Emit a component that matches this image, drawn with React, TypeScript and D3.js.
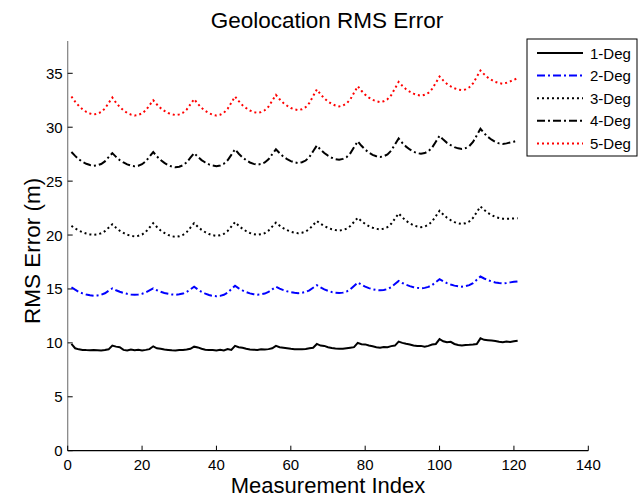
import React from "react";
import * as d3 from "d3";

const seriesNames = ["1-Deg", "2-Deg", "3-Deg", "4-Deg", "5-Deg"];

const deg1 = [
  9.9, 9.5, 9.4, 9.35, 9.33, 9.32, 9.33, 9.32, 9.3, 9.33, 9.4,
  9.75, 9.65, 9.6, 9.35, 9.3, 9.38, 9.32, 9.36, 9.3, 9.35, 9.42,
  9.68, 9.5, 9.45, 9.38, 9.35, 9.32, 9.3, 9.33, 9.35, 9.38, 9.45,
  9.65, 9.58, 9.45, 9.36, 9.35, 9.33, 9.3, 9.36, 9.3, 9.42, 9.35,
  9.72, 9.6, 9.55, 9.45, 9.38, 9.36, 9.35, 9.4, 9.38, 9.42, 9.5,
  9.72, 9.6, 9.55, 9.5, 9.45, 9.42, 9.42, 9.4, 9.44, 9.5, 9.55,
  9.9, 9.75, 9.72, 9.6, 9.52, 9.48, 9.45, 9.45, 9.5, 9.55, 9.6,
  10.0, 9.88, 9.86, 9.75, 9.68, 9.6, 9.55, 9.62, 9.6, 9.7, 9.75,
  10.12, 10.0, 9.92, 9.85, 9.75, 9.7, 9.72, 9.65, 9.72, 9.85, 9.9,
  10.35, 10.15, 10.05, 10.1, 9.9, 9.8, 9.75, 9.8, 9.82, 9.85, 9.9,
  10.42, 10.28, 10.25, 10.22, 10.18, 10.1, 10.05, 10.12, 10.08, 10.15, 10.2,
];

const deg2 = [
  15.15, 14.93, 14.73, 14.59, 14.48, 14.41, 14.37, 14.39, 14.46, 14.6, 14.83,
  15.05, 14.88, 14.74, 14.63, 14.55, 14.49, 14.46, 14.49, 14.55, 14.67, 14.86,
  15.05, 14.88, 14.74, 14.63, 14.55, 14.49, 14.46, 14.5, 14.57, 14.72, 14.96,
  15.2, 14.95, 14.73, 14.57, 14.44, 14.36, 14.32, 14.36, 14.46, 14.66, 14.98,
  15.3, 15.06, 14.86, 14.71, 14.59, 14.51, 14.47, 14.5, 14.57, 14.72, 14.96,
  15.2, 15.03, 14.89, 14.78, 14.7, 14.64, 14.61, 14.65, 14.72, 14.87, 15.11,
  15.35, 15.14, 14.96, 14.83, 14.72, 14.65, 14.62, 14.66, 14.76, 14.96, 15.28,
  15.6, 15.39, 15.21, 15.08, 14.97, 14.9, 14.87, 14.9, 14.99, 15.17, 15.46,
  15.75, 15.55, 15.39, 15.26, 15.16, 15.1, 15.06, 15.1, 15.19, 15.36, 15.63,
  15.9, 15.7, 15.54, 15.41, 15.31, 15.25, 15.21, 15.26, 15.35, 15.54, 15.85,
  16.15, 15.97, 15.81, 15.7, 15.6, 15.55, 15.52, 15.56, 15.61, 15.66, 15.7,
];

const deg3 = [
  20.85, 20.61, 20.41, 20.26, 20.14, 20.06, 20.02, 20.06, 20.16, 20.36, 20.68,
  21.0, 20.68, 20.4, 20.2, 20.03, 19.93, 19.87, 19.93, 20.05, 20.3, 20.7,
  21.1, 20.74, 20.42, 20.19, 20.01, 19.89, 19.83, 19.88, 20.01, 20.27, 20.68,
  21.1, 20.76, 20.48, 20.26, 20.09, 19.98, 19.92, 19.98, 20.11, 20.37, 20.78,
  21.2, 20.86, 20.58, 20.36, 20.19, 20.08, 20.02, 20.07, 20.18, 20.41, 20.78,
  21.15, 20.87, 20.63, 20.45, 20.31, 20.22, 20.17, 20.22, 20.33, 20.56, 20.93,
  21.3, 21.05, 20.83, 20.67, 20.54, 20.46, 20.42, 20.47, 20.59, 20.83, 21.22,
  21.6, 21.29, 21.03, 20.83, 20.68, 20.58, 20.52, 20.59, 20.74, 21.04, 21.52,
  22.0, 21.64, 21.32, 21.09, 20.91, 20.79, 20.73, 20.79, 20.95, 21.26, 21.75,
  22.25, 21.9, 21.6, 21.38, 21.2, 21.09, 21.03, 21.1, 21.26, 21.59, 22.12,
  22.65, 22.33, 22.05, 21.85, 21.68, 21.58, 21.52, 21.51, 21.52, 21.54, 21.55,
];

const deg4 = [
  27.7, 27.34, 27.02, 26.79, 26.61, 26.49, 26.43, 26.47, 26.59, 26.83, 27.22,
  27.6, 27.25, 26.95, 26.73, 26.55, 26.44, 26.38, 26.43, 26.57, 26.84, 27.27,
  27.7, 27.29, 26.95, 26.69, 26.48, 26.35, 26.28, 26.33, 26.47, 26.74, 27.17,
  27.6, 27.25, 26.95, 26.73, 26.55, 26.44, 26.38, 26.45, 26.61, 26.93, 27.44,
  27.95, 27.54, 27.2, 26.94, 26.73, 26.6, 26.53, 26.59, 26.73, 27.02, 27.49,
  27.95, 27.59, 27.27, 27.04, 26.86, 26.74, 26.68, 26.75, 26.91, 27.24, 27.77,
  28.3, 27.92, 27.6, 27.36, 27.17, 27.04, 26.98, 27.06, 27.23, 27.58, 28.14,
  28.7, 28.28, 27.92, 27.65, 27.44, 27.31, 27.23, 27.31, 27.48, 27.83, 28.39,
  28.95, 28.54, 28.2, 27.94, 27.73, 27.6, 27.53, 27.6, 27.77, 28.11, 28.66,
  29.2, 28.85, 28.55, 28.33, 28.15, 28.04, 27.98, 28.06, 28.25, 28.63, 29.24,
  29.85, 29.44, 29.1, 28.84, 28.63, 28.5, 28.45, 28.5, 28.58, 28.66, 28.75,
];

const deg5 = [
  32.85, 32.37, 31.97, 31.66, 31.42, 31.27, 31.18, 31.25, 31.41, 31.73, 32.24,
  32.75, 32.27, 31.87, 31.56, 31.32, 31.17, 31.08, 31.14, 31.28, 31.57, 32.04,
  32.5, 32.11, 31.77, 31.52, 31.32, 31.2, 31.13, 31.19, 31.34, 31.64, 32.12,
  32.6, 32.17, 31.79, 31.52, 31.3, 31.16, 31.08, 31.16, 31.34, 31.7, 32.27,
  32.85, 32.42, 32.04, 31.77, 31.55, 31.41, 31.33, 31.4, 31.57, 31.91, 32.46,
  33.0, 32.59, 32.25, 31.99, 31.78, 31.65, 31.58, 31.67, 31.86, 32.25, 32.88,
  33.5, 33.05, 32.67, 32.38, 32.16, 32.01, 31.93, 32.01, 32.2, 32.58, 33.19,
  33.8, 33.38, 33.02, 32.75, 32.54, 32.41, 32.33, 32.41, 32.6, 32.98, 33.59,
  34.2, 33.84, 33.52, 33.29, 33.11, 32.99, 32.93, 33.01, 33.19, 33.55, 34.12,
  34.7, 34.34, 34.02, 33.79, 33.61, 33.49, 33.43, 33.51, 33.7, 34.07, 34.66,
  35.25, 34.9, 34.6, 34.38, 34.2, 34.09, 34.03, 34.12, 34.25, 34.4, 34.55,
];

const xTicks = [0, 20, 40, 60, 80, 100, 120, 140];
const yTicks = [0, 5, 10, 15, 20, 25, 30, 35];

const allSeries = [deg1, deg2, deg3, deg4, deg5];
const colors = ["#000000", "#0000ff", "#000000", "#000000", "#ff0000"];
const dashes = ["none", "8,3,2,3", "2,3", "8,3,2,3", "2,3"];

const W = 643;
const H = 499;
const left = 67.7;
const right = 588.3;
const bottom = 450.7;
const top = 41;
const font = "Liberation Sans, Arial, Helvetica, sans-serif";

export default function App() {
  const x = d3.scaleLinear().domain([0, 140]).range([left, right]);
  const y = d3.scaleLinear().domain([0, 35]).range([bottom, 73.3]);
  const line = d3
    .line<number>()
    .x((_, i) => x(i + 1))
    .y((d) => y(d));

  const legX = 527;
  const legY = 39;
  const legW = 110;
  const legH = 117;
  const rowY = (i: number) => 53 + i * 22.6;

  return (
    <svg
      width={W}
      height={H}
      style={{ position: "absolute", left: 0, top: 0, background: "#fff" }}
      fontFamily={font}
    >
      <rect x={0} y={0} width={W} height={H} fill="#fff" />
      {/* axes */}
      <line x1={left} y1={top} x2={left} y2={bottom} stroke="#808080" strokeWidth={1.2} />
      <line x1={left} y1={bottom} x2={right} y2={bottom} stroke="#000" strokeWidth={1.2} />
      {xTicks.map((t) => (
        <g key={"x" + t}>
          <line x1={x(t)} x2={x(t)} y1={bottom} y2={bottom - 5} stroke="#000" strokeWidth={1} />
          <text x={x(t)} y={bottom + 19} textAnchor="middle" fontSize={15} fill="#000">
            {t}
          </text>
        </g>
      ))}
      {yTicks.map((t) => (
        <g key={"y" + t}>
          <line x1={left} x2={left + 5} y1={y(t)} y2={y(t)} stroke="#000" strokeWidth={1} />
          <text x={left - 5} y={y(t) + 5.5} textAnchor="end" fontSize={15} fill="#000">
            {t}
          </text>
        </g>
      ))}
      {/* series */}
      {allSeries.map((s, i) => (
        <path
          key={"s" + i}
          d={line(s) || ""}
          fill="none"
          stroke={colors[i]}
          strokeWidth={2}
          strokeDasharray={dashes[i]}
        />
      ))}
      {/* title and labels */}
      <text x={327} y={28} textAnchor="middle" fontSize={22.5} fill="#000">
        Geolocation RMS Error
      </text>
      <text x={(left + right) / 2} y={493} textAnchor="middle" fontSize={22} fill="#000">
        Measurement Index
      </text>
      <text
        transform={`translate(40, 251) rotate(-90)`}
        textAnchor="middle"
        fontSize={22.5}
        fill="#000"
      >
        RMS Error (m)
      </text>
      {/* legend */}
      <rect x={legX} y={legY} width={legW} height={legH} fill="#fff" stroke="#000" strokeWidth={1} />
      {seriesNames.map((n, i) => (
        <g key={"l" + i}>
          <line
            x1={537}
            x2={583}
            y1={rowY(i)}
            y2={rowY(i)}
            stroke={colors[i]}
            strokeWidth={2}
            strokeDasharray={dashes[i]}
          />
          <text x={590} y={rowY(i) + 5.5} fontSize={15} fill="#000">
            {n}
          </text>
        </g>
      ))}
    </svg>
  );
}
